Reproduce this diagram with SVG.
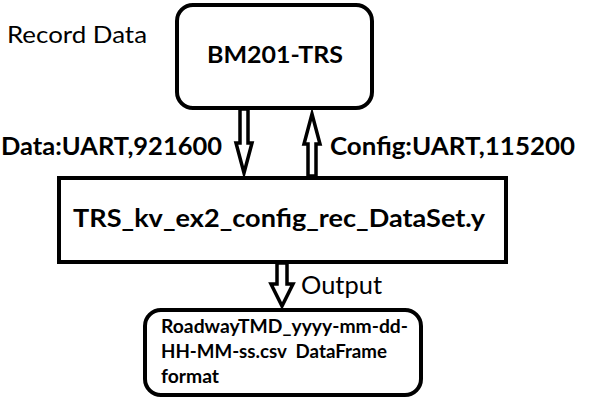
<svg xmlns="http://www.w3.org/2000/svg" width="592" height="411" viewBox="0 0 592 411">
<style>
.box{fill:#fff;stroke:#000;stroke-width:4}
.arr{fill:#fff;stroke:#000;stroke-width:3.5;stroke-linejoin:miter}
.t{font-family:Lato,"Liberation Sans",sans-serif;fill:#000}
.b{font-weight:bold}
</style>
<rect width="592" height="411" fill="#fff"/>
<g id="record-label">
<text class="t" x="7" y="43" font-size="23" textLength="140" lengthAdjust="spacingAndGlyphs">Record Data</text>
</g>
<g id="bm201">
<rect class="box" x="177" y="5" width="195" height="103" rx="16"/>
<text class="t b" x="207" y="63" font-size="23" textLength="136" lengthAdjust="spacingAndGlyphs">BM201-TRS</text>
</g>
<g id="script">
<rect class="box" x="59" y="178" width="447" height="84"/>
<text class="t b" x="73" y="227" font-size="24" textLength="412" lengthAdjust="spacingAndGlyphs">TRS_kv_ex2_config_rec_DataSet.y</text>
</g>
<g id="csv">
<rect class="box" x="145" y="310" width="276" height="85" rx="16"/>
<text class="t b" font-size="18" xml:space="preserve" style="white-space:pre"><tspan x="161" y="333" textLength="247" lengthAdjust="spacingAndGlyphs">RoadwayTMD_yyyy-mm-dd-</tspan><tspan x="161" y="358" textLength="226" lengthAdjust="spacingAndGlyphs">HH-MM-ss.csv  DataFrame</tspan><tspan x="161" y="383" textLength="58" lengthAdjust="spacingAndGlyphs">format</tspan></text>
</g>
<g id="connectors">
<polygon class="arr" points="240,109 240,143 236,143 244,173 252,143 248,143 248,109"/>
<polygon class="arr" points="308,176 308,144 304,144 312,114 320,144 316,144 316,176"/>
<polygon class="arr" points="277,263 277,284 271,284 282,306 293,284 287,284 287,263"/>
<text class="t b" x="1" y="155" font-size="24" textLength="221" lengthAdjust="spacingAndGlyphs">Data:UART,921600</text>
<text class="t b" x="330" y="155" font-size="24" textLength="245" lengthAdjust="spacingAndGlyphs">Config:UART,115200</text>
<text class="t" x="301" y="294" font-size="25" textLength="81" lengthAdjust="spacingAndGlyphs">Output</text>
</g>
</svg>
